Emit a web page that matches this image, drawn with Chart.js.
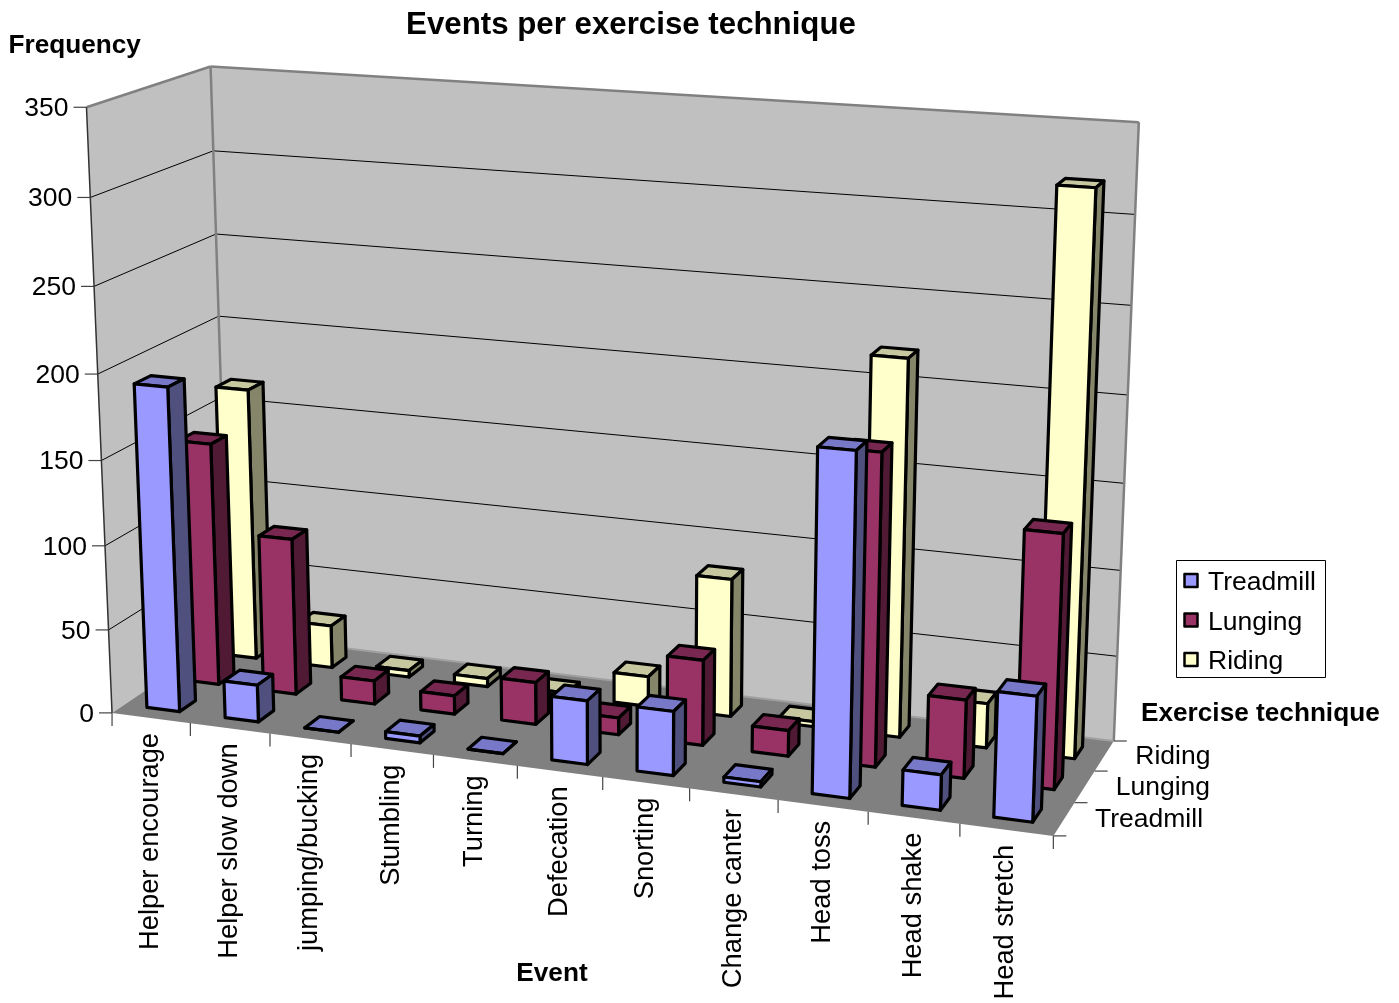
<!DOCTYPE html>
<html>
<head>
<meta charset="utf-8">
<title>Events per exercise technique</title>
<script src="https://cdn.jsdelivr.net/npm/chart.js@4"></script>
<style>
  html, body { margin: 0; padding: 0; background: #fff; }
  canvas { display: block; }
</style>
</head>
<body>
<canvas id="bar-chart" width="1399" height="1003"></canvas>
<script>
const events = ['Helper encourage', 'Helper slow down', 'jumping/bucking', 'Stumbling', 'Turning',
  'Defecation', 'Snorting', 'Change canter', 'Head toss', 'Head shake', 'Head stretch'];
const treadmill = [192, 22, 0, 4, 0, 37, 37, 3, 193, 20, 70];
const lunging = [146, 94, 14, 11, 25, 10, 50, 15, 179, 45, 144];
const riding = [166, 26, 4, 5, 2, 18, 82, 3, 219, 26, 320];
const valueTicks = {min: 0, max: 350, step: 50};

// front, top and side colours of each column
const faces = {
  Treadmill: ['#9999ff', '#7878c8', '#50507f'],
  Lunging: ['#993366', '#782850', '#501a35'],
  Riding: ['#ffffcc', '#c8c8a0', '#858569']
};

const FONT = '"Liberation Sans", Arial, sans-serif';
const BAR_DEPTH = 0.4;

// box corners as [along, depth, height] => screen position, used to fit the camera
const cameraFit = [
  [0, 0, 0, 110, 713], [1, 0, 0, 1054, 835], [1, 1, 0, 1113, 742], [0, 1, 0, 231, 634],
  [0, 0, 1, 88, 108], [0, 1, 1, 209, 66], [1, 1, 1, 1139, 122]
];

// least squares for the 11 terms of a perspective camera
function solveCamera(pts) {
  const rows = [];
  const rhs = [];
  pts.forEach(function(p) {
    const X = p[0], Y = p[1], Z = p[2], sx = p[3], sy = p[4];
    rows.push([X, Y, Z, 1, 0, 0, 0, 0, -sx * X, -sx * Y, -sx * Z]);
    rhs.push(sx);
    rows.push([0, 0, 0, 0, X, Y, Z, 1, -sy * X, -sy * Y, -sy * Z]);
    rhs.push(sy);
  });
  const n = 11;
  const m = [];
  for (let i = 0; i < n; i++) {
    m.push(new Array(n + 1).fill(0));
    rows.forEach(function(r, k) {
      for (let j = 0; j < n; j++) m[i][j] += r[i] * r[j];
      m[i][n] += r[i] * rhs[k];
    });
  }
  for (let c = 0; c < n; c++) {
    let piv = c;
    for (let r = c + 1; r < n; r++) if (Math.abs(m[r][c]) > Math.abs(m[piv][c])) piv = r;
    const tmp = m[c]; m[c] = m[piv]; m[piv] = tmp;
    for (let r = 0; r < n; r++) {
      if (r === c) continue;
      const f = m[r][c] / m[c][c];
      for (let j = c; j <= n; j++) m[r][j] -= f * m[c][j];
    }
  }
  return m.map(function(r, i) { return r[n] / r[i]; });
}

const cam = solveCamera(cameraFit);

function project(u, w, v) {
  const d = cam[8] * u + cam[9] * w + cam[10] * v + 1;
  return [
    (cam[0] * u + cam[1] * w + cam[2] * v + cam[3]) / d,
    (cam[4] * u + cam[5] * w + cam[6] * v + cam[7]) / d
  ];
}

function poly(ctx, pts, fill, stroke, lw) {
  ctx.beginPath();
  pts.forEach(function(p, i) {
    if (i === 0) ctx.moveTo(p[0], p[1]); else ctx.lineTo(p[0], p[1]);
  });
  ctx.closePath();
  if (fill) { ctx.fillStyle = fill; ctx.fill(); }
  if (stroke) { ctx.strokeStyle = stroke; ctx.lineWidth = lw; ctx.stroke(); }
}

function line(ctx, a, b, color, lw) {
  ctx.beginPath();
  ctx.moveTo(a[0], a[1]);
  ctx.lineTo(b[0], b[1]);
  ctx.strokeStyle = color;
  ctx.lineWidth = lw;
  ctx.stroke();
}

function label(ctx, text, x, y, font, align) {
  ctx.font = font;
  ctx.fillStyle = '#000';
  ctx.textAlign = align;
  ctx.textBaseline = 'middle';
  ctx.fillText(text, x, y);
}

// walls, floor, grid, ticks and the flat labels
const frame3d = {
  id: 'frame3d',
  beforeDatasetsDraw: function(chart) {
    const ctx = chart.ctx;
    const area = chart.chartArea;
    const xs = chart.scales.x;
    const ys = chart.scales.y;
    const toU = function(px) { return (px - area.left) / area.width; };
    const toV = function(px) { return (area.bottom - px) / area.height; };

    ctx.save();
    ctx.lineJoin = 'round';
    poly(ctx, [project(0, 0, 0), project(0, 1, 0), project(0, 1, 1), project(0, 0, 1)], '#c0c0c0');
    poly(ctx, [project(0, 1, 0), project(1, 1, 0), project(1, 1, 1), project(0, 1, 1)], '#c0c0c0');
    poly(ctx, [project(0, 0, 0), project(1, 0, 0), project(1, 1, 0), project(0, 1, 0)], '#808080');

    // value grid runs along both walls
    ys.ticks.forEach(function(t) {
      const v = toV(ys.getPixelForValue(t.value));
      const front = project(0, 0, v);
      if (v > 0 && v < 1) {
        line(ctx, front, project(0, 1, v), '#000', 1);
        line(ctx, project(0, 1, v), project(1, 1, v), '#000', 1);
      }
      line(ctx, [front[0] - 13, front[1]], front, '#444', 1.2);
      label(ctx, t.label, front[0] - 18, front[1] + 1.5, '26.5px ' + FONT, 'right');
    });

    line(ctx, project(0, 0, 1), project(0, 1, 1), '#808080', 2.5);
    line(ctx, project(0, 1, 1), project(1, 1, 1), '#808080', 2.5);
    line(ctx, project(0, 1, 1), project(0, 1, 0), '#808080', 2.5);
    line(ctx, project(1, 1, 1), project(1, 1, 0), '#808080', 2.5);
    line(ctx, project(0, 1, 0), project(1, 1, 0), '#a0a0a0', 2);
    line(ctx, project(0, 0, 1), project(0, 0, 0), '#333', 1.5);

    // event ticks and rotated names under the front edge
    for (let i = 0; i <= events.length; i++) {
      const p = project(i / events.length, 0, 0);
      line(ctx, p, [p[0], p[1] + 13], '#444', 1.2);
    }
    xs.getLabels().forEach(function(name, i) {
      const p = project(toU(xs.getPixelForTick(i)), 0, 0);
      ctx.save();
      ctx.translate(p[0] - 0.5, p[1] + 15);
      ctx.rotate(-Math.PI / 2);
      label(ctx, name, 0, 0, '27.3px ' + FONT, 'right');
      ctx.restore();
    });

    // depth ticks and series names on the right
    const n = chart.data.datasets.length;
    for (let s = 0; s <= n; s++) {
      const p = project(1, s / n, 0);
      line(ctx, p, [p[0] + 13, p[1]], '#444', 1.2);
    }
    chart.data.datasets.forEach(function(ds, s) {
      const p = project(1, (s + 0.5) / n, 0);
      label(ctx, ds.label, p[0] + 31, p[1] + 1, '26.5px ' + FONT, 'left');
    });

    label(ctx, 'Frequency', 8.5, 46, 'bold 26.2px ' + FONT, 'left');
    label(ctx, 'Event', 552, 974, 'bold 26.2px ' + FONT, 'center');
    label(ctx, 'Exercise technique', 1141, 714, 'bold 26.2px ' + FONT, 'left');

    // legend box
    ctx.fillStyle = '#fff';
    ctx.fillRect(1176.5, 560.5, 149, 117);
    ctx.strokeStyle = '#000';
    ctx.lineWidth = 1;
    ctx.strokeRect(1176.5, 560.5, 149, 117);
    chart.data.datasets.forEach(function(ds, s) {
      const y = 581 + s * 39.5;
      ctx.fillStyle = ds.backgroundColor;
      ctx.fillRect(1184.5, y - 7, 13, 13);
      ctx.strokeStyle = '#000';
      ctx.lineWidth = 2.5;
      ctx.strokeRect(1184.5, y - 7, 13, 13);
      label(ctx, ds.label, 1208, y + 2, '26.5px ' + FONT, 'left');
    });
    ctx.restore();
  },

  // columns come from the bar elements, so scales still place them
  beforeDatasetDraw: function(chart, args) {
    const ctx = chart.ctx;
    const area = chart.chartArea;
    const n = chart.data.datasets.length;
    const ds = chart.data.datasets[args.index];
    const c = faces[ds.label];
    const w0 = (args.index + 0.5 - BAR_DEPTH / 2) / n;
    const w1 = (args.index + 0.5 + BAR_DEPTH / 2) / n;
    ctx.save();
    ctx.lineJoin = 'round';
    const bars = args.meta.data.slice().reverse();
    bars.forEach(function(el) {
      const u0 = (el.x - el.width / 2 - area.left) / area.width;
      const u1 = (el.x + el.width / 2 - area.left) / area.width;
      const v0 = (area.bottom - el.base) / area.height;
      const v1 = (area.bottom - el.y) / area.height;
      poly(ctx, [project(u0, w0, v1), project(u1, w0, v1), project(u1, w1, v1), project(u0, w1, v1)], c[1], '#000', 3.2);
      poly(ctx, [project(u1, w0, v0), project(u1, w1, v0), project(u1, w1, v1), project(u1, w0, v1)], c[2], '#000', 3.2);
      poly(ctx, [project(u0, w0, v0), project(u1, w0, v0), project(u1, w0, v1), project(u0, w0, v1)], c[0], '#000', 3.2);
    });
    ctx.restore();
    return false;
  }
};

const data = {
  labels: events,
  datasets: [
    {label: 'Treadmill', data: treadmill, backgroundColor: faces.Treadmill[0]},
    {label: 'Lunging', data: lunging, backgroundColor: faces.Lunging[0]},
    {label: 'Riding', data: riding, backgroundColor: faces.Riding[0]}
  ]
};

const config = {
  type: 'bar',
  data: data,
  plugins: [frame3d],
  options: {
    responsive: false,
    animation: false,
    events: [],
    layout: {padding: {right: 137}},
    datasets: {bar: {grouped: false, barPercentage: 0.42, categoryPercentage: 1}},
    plugins: {
      legend: {display: false},
      tooltip: {enabled: false},
      title: {
        display: true,
        text: 'Events per exercise technique',
        color: '#000',
        font: {family: FONT, size: 31.25, weight: 'bold'},
        padding: {top: 7, bottom: 10}
      }
    },
    scales: {
      x: {display: false},
      y: {display: false, min: valueTicks.min, max: valueTicks.max, ticks: {stepSize: valueTicks.step}}
    }
  }
};

window.onload = function() {
  const ctx = document.getElementById('bar-chart').getContext('2d');
  window.eventsChart = new Chart(ctx, config);
};
</script>
</body>
</html>
